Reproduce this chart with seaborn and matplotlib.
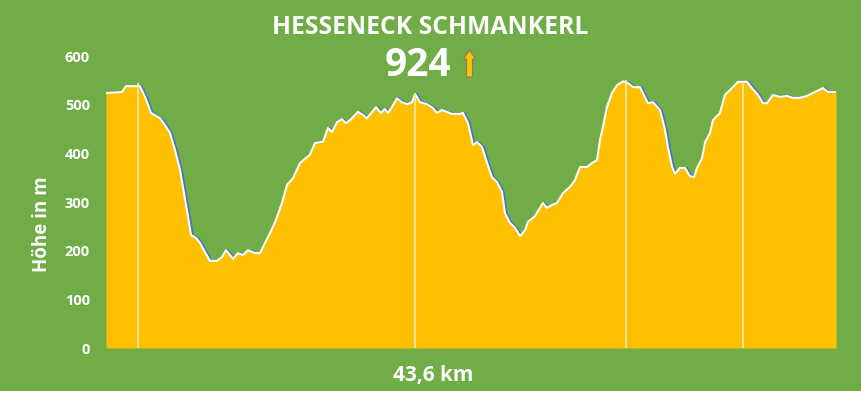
import matplotlib
matplotlib.use("Agg")
import matplotlib.pyplot as plt
import seaborn as sns
import pandas as pd
from matplotlib.patches import Rectangle, FancyArrow
import matplotlib.transforms as mtransforms

# ---- data ----
distance_km = [0.00, 0.96, 1.19, 2.03, 2.33, 2.69, 3.23, 3.52, 3.82, 4.12, 4.42, 4.66, 4.90, 5.08,
               5.38, 5.61, 5.91, 6.21, 6.63, 6.93, 7.17, 7.41, 7.59, 7.88, 8.18, 8.48, 8.90, 9.20,
               9.50, 9.80, 10.15, 10.51, 10.81, 11.17, 11.59, 12.18, 12.48, 12.96, 13.26, 13.50,
               13.80, 14.10, 14.33, 14.57, 15.05, 15.35, 15.59, 15.89, 16.13, 16.42, 16.66, 16.84,
               17.08, 17.38, 17.68, 17.98, 18.28, 18.46, 18.75, 19.17, 19.53, 19.77, 20.07, 20.37,
               20.67, 21.14, 21.32, 21.62, 21.92, 22.16, 22.46, 22.76, 23.05, 23.35, 23.65, 23.83,
               24.13, 24.43, 24.73, 25.03, 25.20, 25.62, 25.92, 26.10, 26.34, 26.64, 26.94, 27.29,
               27.71, 28.01, 28.31, 28.73, 29.03, 29.33, 29.50, 29.68, 29.92, 30.22, 30.52, 30.88,
               31.18, 31.48, 31.89, 32.37, 32.67, 33.09, 33.39, 33.57, 33.81, 33.98, 34.28, 34.58,
               34.88, 35.12, 35.30, 35.60, 35.78, 36.08, 36.25, 36.67, 36.97, 37.39, 37.75, 38.28,
               38.58, 38.94, 39.24, 39.48, 39.84, 40.26, 40.67, 41.03, 41.45, 41.87, 42.35, 42.82,
               43.12, 43.60]
elevation_m = [524, 526, 538, 538, 516, 483, 472, 458, 442, 407, 366, 318, 269, 232,
               226, 216, 197, 179, 179, 187, 201, 191, 183, 195, 191, 201, 195, 195,
               216, 236, 263, 298, 335, 349, 380, 397, 421, 424, 452, 444,
               464, 470, 462, 468, 485, 479, 472, 485, 495, 483, 491, 483,
               495, 513, 505, 501, 505, 522, 505, 501, 493, 483, 489, 485,
               481, 481, 483, 462, 417, 423, 413, 380, 351, 341, 321, 277,
               257, 247, 230, 242, 259, 271, 288, 298, 288, 294, 298, 318,
               331, 345, 372, 372, 380, 386, 427, 454, 495, 524, 540, 548,
               544, 536, 536, 503, 505, 489, 448, 411, 372, 358, 370, 370,
               353, 351, 370, 390, 423, 442, 468, 483, 520, 534, 547, 547,
               534, 520, 503, 503, 520, 516, 518, 514, 514, 518, 526, 534,
               526, 526]
waypoint_km = [1.91, 18.46, 31.06, 38.05]
waypoint_top_m = [544, 524, 550, 547]
title = "HESSENECK SCHMANKERL"
total_ascent = "924"
distance_label = "43,6 km"
y_label = "Höhe in m"
y_ticks = [0, 100, 200, 300, 400, 500, 600]

df = pd.DataFrame({"km": distance_km, "m": elevation_m})

# ---- style ----
sns.set_style("white")
plt.rcParams["font.family"] = ["Open Sans", "DejaVu Sans"]
GREEN = "#70AD47"
ORANGE = "#FFC000"
BLUE = "#4472C4"

W, H = 862, 395
fig = plt.figure(figsize=(W / 100, H / 100), dpi=100)
fig.patch.set_facecolor("white")
fig.patches.append(Rectangle((0, 4 / H), 1, 1 - 4 / H, transform=fig.transFigure,
                             facecolor=GREEN, edgecolor="none", zorder=-10))

ax = fig.add_axes([106 / W, (H - 348) / H, 730 / W, 292 / H])
ax.set_facecolor("none")

# blue shadow line shifted right (visible on descents)
shift = mtransforms.offset_copy(ax.transData, fig=fig, x=1.6, y=0, units="dots")
ax.plot(df["km"], df["m"], color=BLUE, lw=1.6, transform=shift, zorder=1, solid_joinstyle="round")
ax.fill_between(df["km"], 0, df["m"], color=ORANGE, lw=0, zorder=2)
sns.lineplot(data=df, x="km", y="m", ax=ax, color="white", lw=1.5, zorder=3, sort=False)
ax.vlines(waypoint_km, 0, waypoint_top_m, color="#FFE49A", lw=1.4, zorder=4)

ax.set_xlim(0, 43.6)
ax.set_ylim(0, 600)
ax.set_yticks(y_ticks)
ax.set_yticklabels([str(t) for t in y_ticks], color="white", fontsize=10.5, fontweight="bold")
ax.tick_params(axis="y", length=0, pad=11.5)
ax.set_xticks([])
ax.set_xlabel("")
ax.set_ylabel("")
for s in ax.spines.values():
    s.set_visible(False)

fig.text(42 / W, 1 - 224 / H, y_label, rotation=90, ha="center", va="center",
         color="white", fontsize=13.5, fontweight="bold")
fig.text(433 / W, 1 - 376 / H, distance_label, ha="center", va="center",
         color="white", fontsize=15, fontweight="bold")
fig.text(430 / W, 1 - 27 / H, title, ha="center", va="center",
         color="white", fontsize=17.8, fontweight="bold")
fig.text(418 / W, 1 - 65 / H, total_ascent, ha="center", va="center",
         color="white", fontsize=28, fontweight="bold")
fig.patches.append(FancyArrow(469.5 / W, 1 - 77 / H, 0, 27 / H, width=6 / W,
                              head_width=12 / W, head_length=9 / H,
                              length_includes_head=True, transform=fig.transFigure,
                              facecolor=ORANGE, edgecolor="#8C7F5A", lw=0.8))

fig.savefig("out.png", dpi=100, facecolor=fig.get_facecolor())
